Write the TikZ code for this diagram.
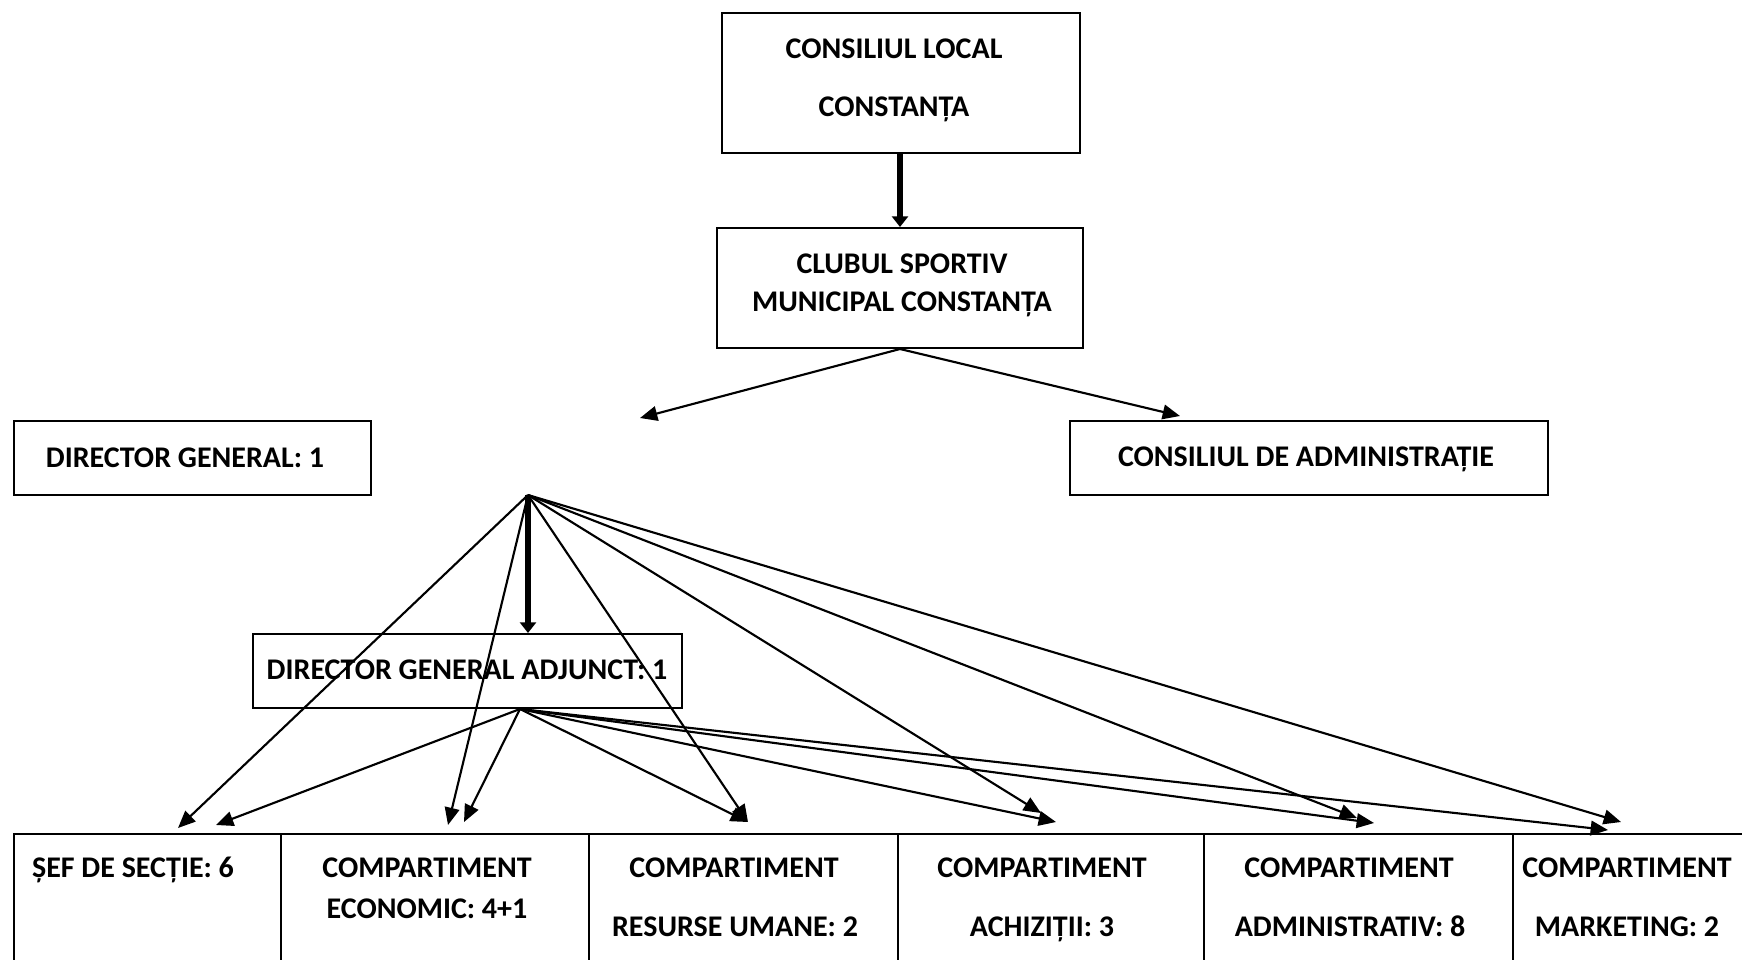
\documentclass[tikz,border=0pt]{standalone}
\usepackage{fontspec}
\setmainfont{Carlito}
\usetikzlibrary{arrows.meta,calc}

\begin{document}
\begin{tikzpicture}[x=0.75pt,y=0.75pt,yscale=-1,xscale=1,
  box/.style={draw, line width=1.5pt, inner sep=0pt},
  cell/.style={box, anchor=north west, minimum height=106.5pt},
  txt/.style={inner sep=0pt, anchor=base, font=\fontsize{22.5}{27}\selectfont\bfseries},
  arr/.style={line width=1.6pt, -{Triangle[length=13pt,width=11pt]}},
  thick arr/.style={line width=4.5pt, -{Triangle[length=8pt,width=12pt]}}]
\useasboundingbox (0,0) rectangle (1742,960);

%Shape: Rectangle
\node [box, minimum width=268.5pt, minimum height=105pt] (local) at (901,83) {};
%Shape: Rectangle
\node [box, minimum width=274.5pt, minimum height=90pt] (club) at (900,288) {};
%Shape: Rectangle
\node [box, minimum width=267.75pt, minimum height=55.5pt] (dg) at (192.5,458) {};
%Shape: Rectangle
\node [box, minimum width=358.5pt, minimum height=55.5pt] (cda) at (1309,458) {};
%Shape: Rectangle
\node [box, minimum width=321.75pt, minimum height=55.5pt] (dga) at (467.5,671) {};

%Shape: Rectangle row
\node [cell, minimum width=200.25pt] (sef) at (13,833) {};
\node [cell, minimum width=231pt] (eco) at (280,833) {};
\node [cell, minimum width=231.75pt] (rum) at (588,833) {};
\node [cell, minimum width=229.5pt] (ach) at (897,833) {};
\node [cell, minimum width=231.75pt] (adm) at (1203,833) {};
\node [cell, minimum width=186pt] (mkt) at (1512,833) {};

% Text Node
\node [txt] (localA) at (894,58) {CONSILIUL LOCAL};
\node [txt] (localB) at (894,116) {CONSTANȚA};
% Text Node
\node [txt] (clubA) at (902,273) {CLUBUL SPORTIV};
\node [txt] (clubB) at (902,311) {MUNICIPAL CONSTANȚA};
% Text Node
\node [txt] (dgT) at (185,467) {DIRECTOR GENERAL: 1};
% Text Node
\node [txt] (cdaT) at (1306,466.5) {CONSILIUL DE ADMINISTRAȚIE};
% Text Node
\node [txt] (dgaT) at (467,679) {DIRECTOR GENERAL ADJUNCT: 1};
% Text Node
\node [txt] (sefT) at (133,877) {ȘEF DE SECȚIE: 6};
\node [txt] (ecoA) at (427,877) {COMPARTIMENT};
\node [txt] (ecoB) at (427,918) {ECONOMIC: 4+1};
\node [txt] (rumA) at (734,877) {COMPARTIMENT};
\node [txt] (rumB) at (735,936) {RESURSE UMANE: 2};
\node [txt] (achA) at (1042,877) {COMPARTIMENT};
\node [txt] (achB) at (1042,936) {ACHIZIȚII: 3};
\node [txt] (admA) at (1349,877) {COMPARTIMENT};
\node [txt] (admB) at (1350,936) {ADMINISTRATIV: 8};
\node [txt] (mktA) at (1627,877) {COMPARTIMENT};
\node [txt] (mktB) at (1627,936) {MARKETING: 2};

% fan points
\coordinate (gap) at (640,418);
\coordinate (hubA) at (528,495);
\coordinate (hubB) at ($(dga.south)+(52.5,0)$);

% Connectors
\draw [thick arr] (local.south -| club.north) -- (club.north);
\draw [arr] (club.south) -- (gap);
\draw [arr] (club.south) -- ($(cda.north)+(-129,-4)$);
\draw [thick arr] (hubA) -- (hubA |- dga.north);

\draw [arr] (hubA) -- ($(sef.north)+(30.5,-5)$);
\draw [arr] (hubA) -- ($(eco.north)+(13,-8)$);
\draw [arr] (hubA) -- ($(rum.north)+(4.5,-11)$);
\draw [arr] (hubA) -- ($(ach.north)+(-10,-20)$);
\draw [arr] (hubA) -- ($(adm.north)+(-1.5,-15)$);
\draw [arr] (hubA) -- ($(mkt.north)+(-16,-11)$);

\draw [arr] (hubB) -- ($(sef.north)+(68.5,-8)$);
\draw [arr] (hubB) -- ($(eco.north)+(29,-11)$);
\draw [arr] (hubB) -- ($(rum.north)+(4.5,-11)$);
\draw [arr] (hubB) -- ($(ach.north)+(5,-11)$);
\draw [arr] (hubB) -- ($(adm.north)+(15.5,-10)$);
\draw [arr] (hubB) -- ($(mkt.north)+(-29,-3)$);

\end{tikzpicture}
\end{document}
